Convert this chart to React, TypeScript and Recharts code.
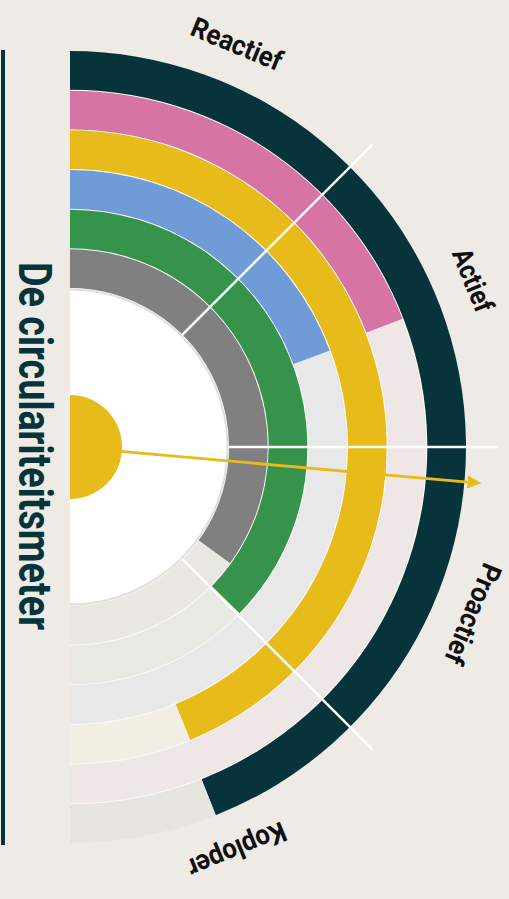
import { PieChart, Pie, Cell } from 'recharts';

const W = 509;
const H = 899;
const CX = 70;
const CY = 447;

// rings, from outside to inside
const ringNames = ['Ring 1', 'Ring 2', 'Ring 3', 'Ring 4', 'Ring 5', 'Ring 6'];
const ringScores = [88, 38.3, 87.6, 38.7, 74.7, 70];
const ringMax = 100;

// phases round the half circle, top to bottom
const phases = ['Reactief', 'Actief', 'Proactief', 'Koploper'];
const phaseSpans = [25, 25, 25, 25];

const needleScore = 52.8;

const ringColors = ['#07343b', '#d574a5', '#e7bb1a', '#6f9bd7', '#35934b', '#808080'];
const trackColors = ['#e5e4df', '#efe7e5', '#f3eee3', '#e8e8e8', '#e8e9e3', '#e9e7e2'];
const phaseTextLength = [96, 66, 106, 104];

const OUTER = 396;
const INNER = 158;
const STEP = (OUTER - INNER) / ringScores.length;
const RAD = Math.PI / 180;
const YELLOW = '#e7bb1a';
const TEAL = '#07343b';

const polar = (cx: number, cy: number, r: number, a: number) => [
  cx + r * Math.cos(a * RAD),
  cy - r * Math.sin(a * RAD),
];

const renderPhase = (p: any) => {
  const { cx, cy, midAngle, endAngle, index } = p;
  const [x, y] = polar(cx, cy, 436, midAngle);
  const [x1, y1] = polar(cx, cy, INNER, endAngle);
  const [x2, y2] = polar(cx, cy, 428, endAngle);
  return (
    <g key={`phase-${index}`}>
      {index < phases.length - 1 && (
        <line x1={x1} y1={y1} x2={x2} y2={y2} stroke="#fff" strokeWidth={2.5} />
      )}
      <text
        x={x}
        y={y}
        transform={`rotate(${90 - midAngle} ${x} ${y})`}
        textAnchor="middle"
        dominantBaseline="central"
        fontFamily="Roboto, 'DejaVu Sans', sans-serif"
        fontWeight={700}
        fontSize={28}
        fill="#111"
        textLength={phaseTextLength[index]}
        lengthAdjust="spacingAndGlyphs"
      >
        {phases[index]}
      </text>
    </g>
  );
};

const renderNeedle = (p: any) => {
  const { cx, cy, endAngle, index } = p;
  if (index !== 0) return <g key="needle-rest" />;
  const [sx, sy] = polar(cx, cy, 48, endAngle);
  const [tx, ty] = polar(cx, cy, 413, endAngle);
  const [bx, by] = polar(cx, cy, 399, endAngle);
  const [lx, ly] = polar(bx, by, 6.5, endAngle + 90);
  const [rx, ry] = polar(bx, by, 6.5, endAngle - 90);
  return (
    <g key="needle">
      <line x1={sx} y1={sy} x2={bx} y2={by} stroke={YELLOW} strokeWidth={2.8} />
      <polygon points={`${tx},${ty} ${lx},${ly} ${rx},${ry}`} fill={YELLOW} />
    </g>
  );
};

export default function App() {
  const phaseData = phases.map((name, i) => ({ name, value: phaseSpans[i] }));
  const needleData = [
    { name: 'score', value: needleScore },
    { name: 'rest', value: ringMax - needleScore },
  ];

  return (
    <div style={{ position: 'absolute', left: 0, top: 0, width: W, height: H, background: '#eeebe6', overflow: 'hidden' }}>
      <PieChart width={W} height={H} margin={{ top: 0, right: 0, bottom: 0, left: 0 }}>
        {/* white base so the gaps between rings show light */}
        <Pie data={[{ name: 'base', value: 1 }]} dataKey="value" cx={CX} cy={CY} startAngle={90} endAngle={-90}
          outerRadius={OUTER - 0.5} innerRadius={0} fill="#fbfaf8" stroke="none" isAnimationActive={false} />

        {ringScores.map((score, i) => (
          <Pie
            key={ringNames[i]}
            data={[
              { name: ringNames[i], value: score },
              { name: 'rest', value: ringMax - score },
            ]}
            dataKey="value"
            cx={CX}
            cy={CY}
            startAngle={90}
            endAngle={-90}
            outerRadius={OUTER - i * STEP}
            innerRadius={OUTER - (i + 1) * STEP + 1}
            stroke="none"
            isAnimationActive={false}
          >
            <Cell fill={ringColors[i]} />
            <Cell fill={trackColors[i]} />
          </Pie>
        ))}

        {/* inner white disc with a light rim */}
        <Pie data={[{ name: 'rim', value: 1 }]} dataKey="value" cx={CX} cy={CY} startAngle={90} endAngle={-90}
          outerRadius={INNER + 0.5} innerRadius={0} fill="#e2dfda" stroke="none" isAnimationActive={false} />
        <Pie data={[{ name: 'disc', value: 1 }]} dataKey="value" cx={CX} cy={CY} startAngle={90} endAngle={-90}
          outerRadius={INNER - 1.5} innerRadius={0} fill="#ffffff" stroke="none" isAnimationActive={false} />

        {/* yellow hub */}
        <Pie data={[{ name: 'hub', value: 1 }]} dataKey="value" cx={CX} cy={CY} startAngle={90} endAngle={-90}
          outerRadius={52} innerRadius={0} fill={YELLOW} stroke="none" isAnimationActive={false} />

        {/* phase dividers and labels */}
        <Pie data={phaseData} dataKey="value" cx={CX} cy={CY} startAngle={90} endAngle={-90}
          outerRadius={428} innerRadius={INNER} fill="none" stroke="none" label={renderPhase} labelLine={false}
          isAnimationActive={false} />

        {/* needle */}
        <Pie data={needleData} dataKey="value" cx={CX} cy={CY} startAngle={90} endAngle={-90}
          outerRadius={413} innerRadius={0} fill="none" stroke="none" label={renderNeedle} labelLine={false}
          isAnimationActive={false} />
      </PieChart>

      <svg width={W} height={H} style={{ position: 'absolute', left: 0, top: 0, pointerEvents: 'none' }}>
        <rect x={1} y={50} width={4} height={795} fill={TEAL} />
        <text
          transform="translate(19 446) rotate(90)"
          textAnchor="middle"
          fontFamily="Roboto, 'DejaVu Sans', sans-serif"
          fontWeight={700}
          fontSize={46}
          fill={TEAL}
          textLength={368}
          lengthAdjust="spacingAndGlyphs"
        >
          De circulariteitsmeter
        </text>
      </svg>
    </div>
  );
}
